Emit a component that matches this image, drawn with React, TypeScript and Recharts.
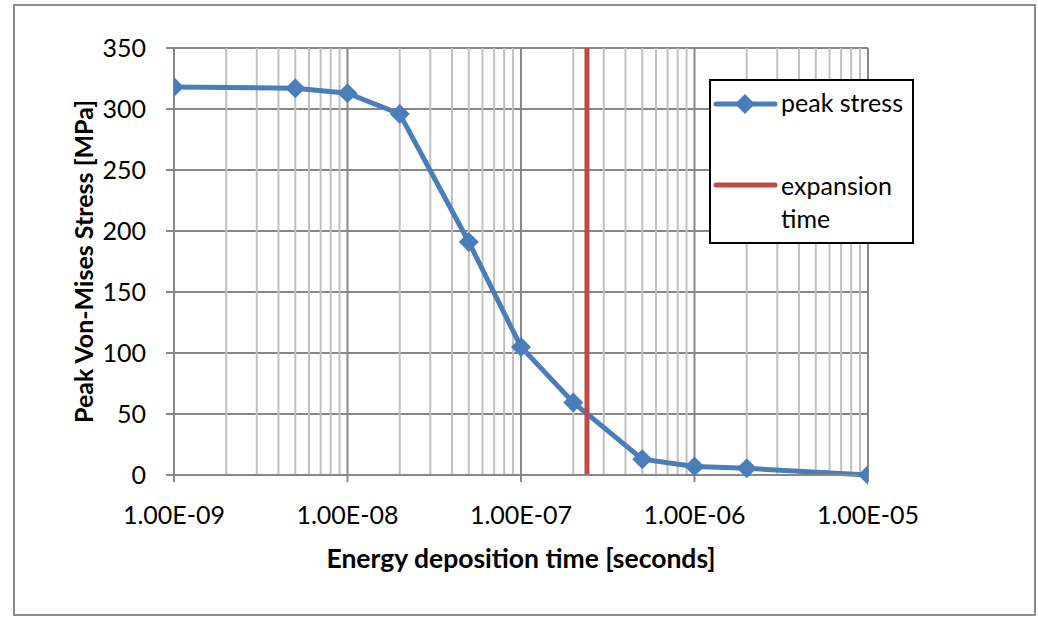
import { CartesianGrid, ComposedChart, Legend, Line, ReferenceLine, XAxis, YAxis } from "recharts"

// energy deposition time [s] and peak von Mises stress [MPa]
const depositionTimes = [1e-9, 5e-9, 1e-8, 2e-8, 5e-8, 1e-7, 2e-7, 5e-7, 1e-6, 2e-6, 1e-5]
const peakStress = [318, 317, 313, 296, 191, 105, 59.5, 13, 7, 5.5, 0]

// expansion time marker, drawn as a vertical series
const expansionTime = 2.4e-7
const expansionStress = [0, 350]

const decadeTicks = [1e-9, 1e-8, 1e-7, 1e-6, 1e-5]
const minorMultipliers = [2, 3, 4, 5, 6, 7, 8, 9]
const stressTicks = [0, 50, 100, 150, 200, 250, 300, 350]

const stressData = depositionTimes.map((t, i) => ({ t, stress: peakStress[i] }))
const expansionData = expansionStress.map((s) => ({ t: expansionTime, stress: s }))
const minorTicks = decadeTicks.slice(0, -1).flatMap((d) => minorMultipliers.map((m) => m * d))

const BLUE = "#4a7ebb"
const RED = "#be4b48"
const FONT = "Lato, 'Noto Sans', sans-serif"

function excelExp(v: number) {
  const [mant, exp] = v.toExponential(2).split("e")
  const n = Number(exp)
  const sign = n < 0 ? "-" : "+"
  return `${mant.toUpperCase()}E${sign}${String(Math.abs(n)).padStart(2, "0")}`
}

function Diamond(props: any) {
  const { cx, cy } = props
  if (cx == null || cy == null) return null
  const r = 10
  return (
    <polygon
      points={`${cx},${cy - r} ${cx + r},${cy} ${cx},${cy + r} ${cx - r},${cy}`}
      fill={BLUE}
    />
  )
}

// rotated y-axis title, centred on the plot height
function YTitle(props: any) {
  const vb = props.viewBox || {}
  const x = (vb.x ?? 0) + 9
  const y = (vb.y ?? 0) + (vb.height ?? 0) / 2
  return (
    <text
      x={x}
      y={y}
      transform={`rotate(-90, ${x}, ${y})`}
      textAnchor="middle"
      dominantBaseline="central"
      fontSize={25}
      fontWeight={700}
      fontFamily={FONT}
      fill="#000"
    >
      Peak Von-Mises Stress [MPa]
    </text>
  )
}

function LegendBox() {
  return (
    <svg width={205} height={165} style={{ display: "block" }}>
      <rect x={1} y={1} width={203} height={163} fill="#fff" stroke="#000" strokeWidth={2} />
      <line x1={7} y1={25} x2={66} y2={25} stroke={BLUE} strokeWidth={5} strokeLinecap="round" />
      <polygon points="36,15 46,25 36,35 26,25" fill={BLUE} />
      <text x={72} y={33} fontSize={25} fontFamily={FONT} fill="#000">peak stress</text>
      <line x1={7} y1={106} x2={66} y2={106} stroke={RED} strokeWidth={5} strokeLinecap="round" />
      <text x={72} y={116} fontSize={25} fontFamily={FONT} fill="#000">expansion</text>
      <text x={72} y={149} fontSize={25} fontFamily={FONT} fill="#000">time</text>
    </svg>
  )
}

export default function App() {
  return (
    <div style={{ position: "absolute", left: 0, top: 0, width: 1038, height: 617, background: "#fff", fontFamily: FONT }}>
      <div
        style={{
          position: "absolute",
          left: 13,
          top: 4,
          width: 1023,
          height: 612,
          border: "2px solid #8c8c8c",
          boxSizing: "border-box",
        }}
      />
      <ComposedChart
        width={1038}
        height={617}
        margin={{ top: 48, right: 170, left: 74, bottom: 47 }}
        style={{ position: "absolute", left: 0, top: 0 }}
      >
        <CartesianGrid vertical={false} horizontalValues={stressTicks} stroke="#878787" strokeWidth={2} />
        {minorTicks.map((v) => (
          <ReferenceLine key={`minor-${v}`} x={v} stroke="#c0c0c0" strokeWidth={2} />
        ))}
        {decadeTicks.slice(1).map((v) => (
          <ReferenceLine key={`major-${v}`} x={v} stroke="#878787" strokeWidth={2} />
        ))}
        <XAxis
          dataKey="t"
          type="number"
          scale="log"
          domain={[1e-9, 1e-5]}
          ticks={decadeTicks}
          tickFormatter={excelExp}
          allowDataOverflow
          height={95}
          tickSize={7}
          tickMargin={24}
          stroke="#878787"
          strokeWidth={2}
          tick={{ fill: "#000", fontSize: 25, fontFamily: FONT }}
          label={{
            value: "Energy deposition time [seconds]",
            position: "insideBottom",
            offset: 2,
            fill: "#000",
            fontSize: 26.5,
            fontWeight: 700,
            fontFamily: FONT,
          }}
        />
        <YAxis
          type="number"
          domain={[0, 350]}
          ticks={stressTicks}
          width={100}
          tickSize={8}
          tickMargin={20}
          stroke="#878787"
          strokeWidth={2}
          tick={{ fill: "#000", fontSize: 25, fontFamily: FONT }}
          label={{ content: (p: any) => <YTitle {...p} /> }}
        />
        <Legend
          layout="vertical"
          align="center"
          verticalAlign="middle"
          content={() => <LegendBox />}
          wrapperStyle={{ left: 709, top: 79, width: 205, height: 165 }}
        />
        <Line
          data={stressData}
          dataKey="stress"
          name="peak stress"
          stroke={BLUE}
          strokeWidth={5}
          dot={<Diamond />}
          activeDot={false}
          isAnimationActive={false}
        />
        <Line
          data={expansionData}
          dataKey="stress"
          name="expansion time"
          stroke={RED}
          strokeWidth={5}
          dot={false}
          activeDot={false}
          isAnimationActive={false}
        />
      </ComposedChart>
    </div>
  )
}
